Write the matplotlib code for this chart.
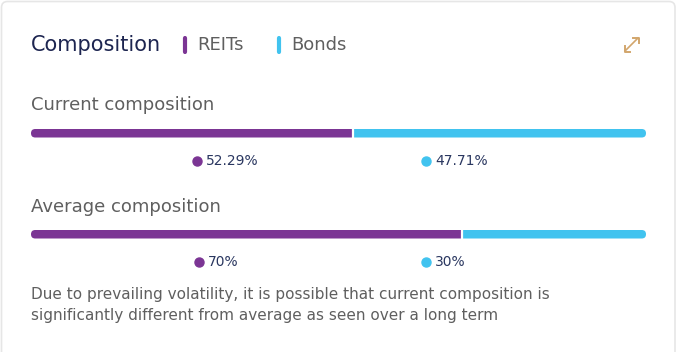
import matplotlib
matplotlib.use("Agg")
import matplotlib.pyplot as plt
from matplotlib.patches import FancyBboxPatch

# ── Data ──────────────────────────────────────────────────
SERIES = ["REITs", "Bonds"]
COLORS = ["#7b3594", "#41c3ef"]
CURRENT = [52.29, 47.71]
AVERAGE = [70, 30]
CURRENT_LABELS = ["52.29%", "47.71%"]
AVERAGE_LABELS = ["70%", "30%"]
NOTE = ("Due to prevailing volatility, it is possible that current composition is\n"
        "significantly different from average as seen over a long term")

# ── Layout (pixels) ───────────────────────────────────────
W, H = 677, 352
BAR_LEFT, BAR_RIGHT = 31, 646
BAR_H = 8.5
TITLE_COLOR = "#1d2550"
GRAY = "#5f5f5f"
VALUE_COLOR = "#2a3760"
FONT = "DejaVu Sans"

fig = plt.figure(figsize=(W / 100, H / 100), dpi=100)
bg = fig.add_axes([0, 0, 1, 1])
bg.set_xlim(0, W)
bg.set_ylim(H, 0)
bg.axis("off")

# card
bg.add_patch(FancyBboxPatch((1.5, 1.5), W - 3.5, H + 20, boxstyle="round,pad=0,rounding_size=6",
                            fc="white", ec="#e6e6e6", lw=1.2))

# header
bg.text(BAR_LEFT, 45, "Composition", fontsize=15, color=TITLE_COLOR, va="center", family=FONT)
for x, name, c in zip([185, 279], SERIES, COLORS):
    bg.plot([x, x], [38, 52], color=c, lw=3, solid_capstyle="round")
    bg.text(x + 12, 45, name, fontsize=13, color=GRAY, va="center", family=FONT)

# expand icon
ic = "#d2a66c"
bg.plot([625, 638], [51, 38], color=ic, lw=1.2)
bg.plot([633, 638.5, 638.5], [37.5, 37.5, 43], color=ic, lw=1.4)
bg.plot([624.5, 624.5, 630], [46, 51.5, 51.5], color=ic, lw=1.4)


def draw_bar(y_top, values):
    ax = fig.add_axes([BAR_LEFT / W, 1 - (y_top + BAR_H) / H, (BAR_RIGHT - BAR_LEFT) / W, BAR_H / H])
    ax.set_xlim(0, 100)
    ax.set_ylim(-0.5, 0.5)
    ax.axis("off")
    # rounded track in pixel space, used as clip path
    track = FancyBboxPatch((BAR_LEFT, y_top), BAR_RIGHT - BAR_LEFT, BAR_H,
                           boxstyle=f"round,pad=0,rounding_size={BAR_H / 2}",
                           transform=bg.transData, fc="none", ec="none")
    left = 0
    for v, c in zip(values, COLORS):
        for b in ax.barh(0, v, left=left, height=1, color=c, edgecolor="none"):
            b.set_clip_path(track)
        left += v
    for x in [sum(values[:i + 1]) for i in range(len(values) - 1)]:
        ax.axvline(x, color="white", lw=1.6)


def draw_values(y, xs, labels):
    for x, lab, c in zip(xs, labels, COLORS):
        bg.plot(x, y, "o", ms=6.5, color=c)
        bg.text(x + 9, y, lab, fontsize=10, color=VALUE_COLOR, va="center", family=FONT)


bg.text(BAR_LEFT, 105, "Current composition", fontsize=13, color=GRAY, va="center", family=FONT)
draw_bar(129, CURRENT)
draw_values(161, [197, 426], CURRENT_LABELS)

bg.text(BAR_LEFT, 207, "Average composition", fontsize=13, color=GRAY, va="center", family=FONT)
draw_bar(230, AVERAGE)
draw_values(262, [199, 426], AVERAGE_LABELS)

bg.text(BAR_LEFT, 305, NOTE, fontsize=11, color=GRAY, va="center", family=FONT,
        linespacing=1.5)

fig.savefig("out.png", dpi=100)
